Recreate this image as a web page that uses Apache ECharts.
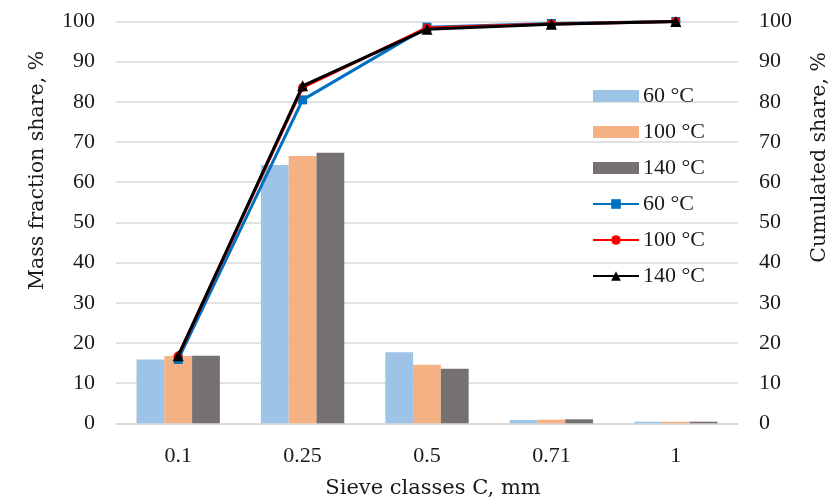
<!DOCTYPE html>
<html>
<head>
<meta charset="utf-8">
<script src="https://cdn.jsdelivr.net/npm/echarts@6/dist/echarts.min.js"></script>
<style>
  html, body { margin: 0; padding: 0; background: #fff; }
  #chart { width: 830px; height: 501px; }
</style>
</head>
<body>
<div id="chart"></div>
<script>
// Sieve classes (mm)
const sieveClasses = ['0.1', '0.25', '0.5', '0.71', '1'];

// Mass fraction share per sieve class, %
const mass60 = [15.9, 64.3, 17.7, 0.8, 0.4];
const mass100 = [16.75, 66.5, 14.6, 0.9, 0.4];
const mass140 = [16.8, 67.35, 13.6, 1.0, 0.4];

// Cumulated share, %
const cum60 = [15.9, 80.5, 98.6, 99.5, 100];
const cum100 = [16.75, 83.6, 98.4, 99.4, 100];
const cum140 = [16.8, 84.0, 98.1, 99.3, 100];

// Legend labels
const tempLabels = ['60 °C', '100 °C', '140 °C'];

const numFont = '"Liberation Serif", "Times New Roman", serif';
const nameFont = '"DejaVu Serif", serif';
const gridColor = '#d9d9d9';
const textColor = '#1a1a1a';

const barColors = ['#9dc3e6', '#f4b183', '#767171'];
const lineColors = ['#0070c0', '#ff0000', '#000000'];
const lineSymbols = ['rect', 'circle', 'triangle'];

const barData = [mass60, mass100, mass140];
const lineData = [cum60, cum100, cum140];

const series = [];
barData.forEach((d, i) => {
  series.push({
    name: 'bar ' + tempLabels[i],
    type: 'bar',
    yAxisIndex: 0,
    data: d,
    barGap: '0%',
    barCategoryGap: '33%',
    itemStyle: { color: barColors[i] },
    z: 2
  });
});
lineData.forEach((d, i) => {
  series.push({
    name: 'line ' + tempLabels[i],
    type: 'line',
    yAxisIndex: 1,
    data: d,
    symbol: lineSymbols[i],
    symbolSize: i === 2 ? 11 : 9,
    lineStyle: { color: lineColors[i], width: 3 },
    itemStyle: { color: lineColors[i] },
    z: 3 + i
  });
});

const chart = echarts.init(document.getElementById('chart'), null, { renderer: 'canvas' });
chart.setOption({
  animation: false,
  backgroundColor: '#ffffff',
  grid: { left: 116, right: 92, top: 21.5, bottom: 77.7, containLabel: false, outerBoundsMode: 'none' },
  legend: {
    orient: 'vertical',
    left: 587,
    top: 80,
    itemWidth: 46,
    itemHeight: 12,
    itemGap: 14,
    data: series.map(s => ({ name: s.name, icon: s.type === 'bar' ? 'rect' : undefined })),
    formatter: n => n.replace(/^(bar|line) /, ''),
    textStyle: { fontFamily: numFont, fontSize: 22, color: textColor, lineHeight: 20, padding: [0, 0, 0, -1] }
  },
  xAxis: {
    type: 'category',
    data: sieveClasses,
    name: 'Sieve classes C, mm',
    nameLocation: 'middle',
    nameGap: 55,
    nameTextStyle: { fontFamily: nameFont, fontSize: 21, color: textColor, verticalAlign: 'top', padding: [0, 0, 0, 12] },
    axisLine: { lineStyle: { color: gridColor, width: 1.5 } },
    axisTick: { show: false },
    axisLabel: { fontFamily: numFont, fontSize: 22, color: textColor, margin: 22 }
  },
  yAxis: [
    {
      type: 'value', min: 0, max: 100, interval: 10,
      name: 'Mass fraction share, %',
      nameLocation: 'middle',
      nameRotate: 90,
      nameGap: 68,
      nameTextStyle: { fontFamily: nameFont, fontSize: 20.5, color: textColor, padding: [0, 0, 0, 104] },
      axisLine: { show: false },
      axisTick: { show: false },
      splitLine: { lineStyle: { color: gridColor, width: 1.5 } },
      axisLabel: { fontFamily: numFont, fontSize: 22, color: textColor, margin: 21 }
    },
    {
      type: 'value', min: 0, max: 100, interval: 10,
      name: 'Cumulated share, %',
      nameLocation: 'middle',
      nameRotate: 90,
      nameGap: 71,
      nameTextStyle: { fontFamily: nameFont, fontSize: 20.5, color: textColor, padding: [0, 0, 0, 130] },
      axisLine: { show: false },
      axisTick: { show: false },
      splitLine: { show: false },
      axisLabel: { fontFamily: numFont, fontSize: 22, color: textColor, margin: 21 }
    }
  ],
  series: series
});
</script>
</body>
</html>
